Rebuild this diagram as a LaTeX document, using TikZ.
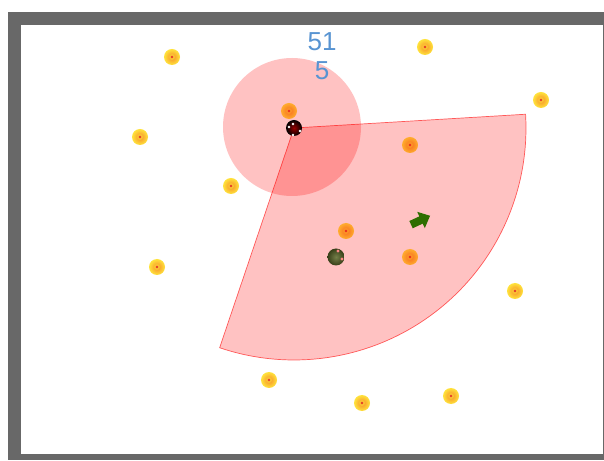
\documentclass[tikz,border=0pt]{standalone}
\usepackage{fontspec}
\setmainfont{Liberation Sans}
\usetikzlibrary{positioning}

\definecolor{wallgray}{RGB}{104,104,104}
\definecolor{scoreblue}{RGB}{88,148,210}
\definecolor{coinyellow}{RGB}{255,228,60}
\definecolor{coinorange}{RGB}{246,140,40}
\definecolor{coinred}{RGB}{228,60,40}
\definecolor{bugolive}{RGB}{92,104,40}
\definecolor{arrowgreen}{RGB}{46,110,0}

\begin{document}
\begin{tikzpicture}[x=1pt, y=1pt,
    coin/.style={circle, minimum size=16pt, inner sep=0pt, shading=radial,
        inner color=coinorange, outer color=coinyellow,
        path picture={\fill[coinyellow!60!coinorange] (path picture bounding box.center) circle (3pt);
                      \fill[coinred] (path picture bounding box.center) circle (1.4pt);}},
    view/.style={fill=red, fill opacity=0.24},
    score/.style={text=scoreblue, font=\fontsize{26}{28}\selectfont, inner sep=0pt}]

\useasboundingbox (0,0) rectangle (604,460);

% arena walls
\fill[wallgray] (8,0) rectangle (604,448);
\fill[white] (21,6) rectangle (603,435);

% coins
\node[coin] (c1) at (172,403) {};
\node[coin] (c2) at (425,413) {};
\node[coin] (c3) at (541,360) {};
\node[coin] (c4) at (140,323) {};
\node[coin] (c5) at (289,349) {};
\node[coin] (c6) at (410,315) {};
\node[coin] (c7) at (231,274) {};
\node[coin] (c8) at (346,229) {};
\node[coin] (c9) at (410,203) {};
\node[coin] (c10) at (157,193) {};
\node[coin] (c11) at (515,169) {};
\node[coin] (c12) at (269,80) {};
\node[coin] (c13) at (362,57) {};
\node[coin] (c14) at (451,64) {};

% vision cone and hearing range
\coordinate (player) at (294,332);
\fill[view] (player) -- ++(3.4:232pt) arc[start angle=3.4, end angle=-108.7, radius=232pt] -- cycle;
\draw[red, opacity=0.6, line width=0.7pt] (player) -- ++(3.4:232pt) arc[start angle=3.4, end angle=-108.7, radius=232pt] -- cycle;
\fill[view] (292,333) circle (69pt);

% enemy bug
\node[circle, minimum size=17pt, inner sep=0pt,
    shading=radial, inner color=bugolive!85!white, outer color=bugolive!60!black] (enemy) at (336,203) {};
\fill[pink!70!red] ([shift={(2pt,6pt)}]enemy.center) circle (1.7pt);
\fill[pink!70!red] ([shift={(6pt,-2pt)}]enemy.center) circle (1.7pt);

% heading arrow
\fill[arrowgreen, rotate around={25:(421,240)}]
    (410,236) -- (421,236) -- (421,231) -- (431,240) -- (421,249) -- (421,244) -- (410,244) -- cycle;

% player bug
\node[circle, minimum size=16pt, inner sep=0pt, shading=radial,
    inner color=red!60!black, outer color=black] (bug) at (player) {};
\foreach \p in {(-5,1), (-1,4), (6,-3), (-1,-7)}
    \fill[white] ([shift={\p}]bug.center) circle (1.3pt);

% score
\node[score] (points) at (322,418) {51};
\node[score, below=10pt of points] (lives) {5};
\end{tikzpicture}
\end{document}
